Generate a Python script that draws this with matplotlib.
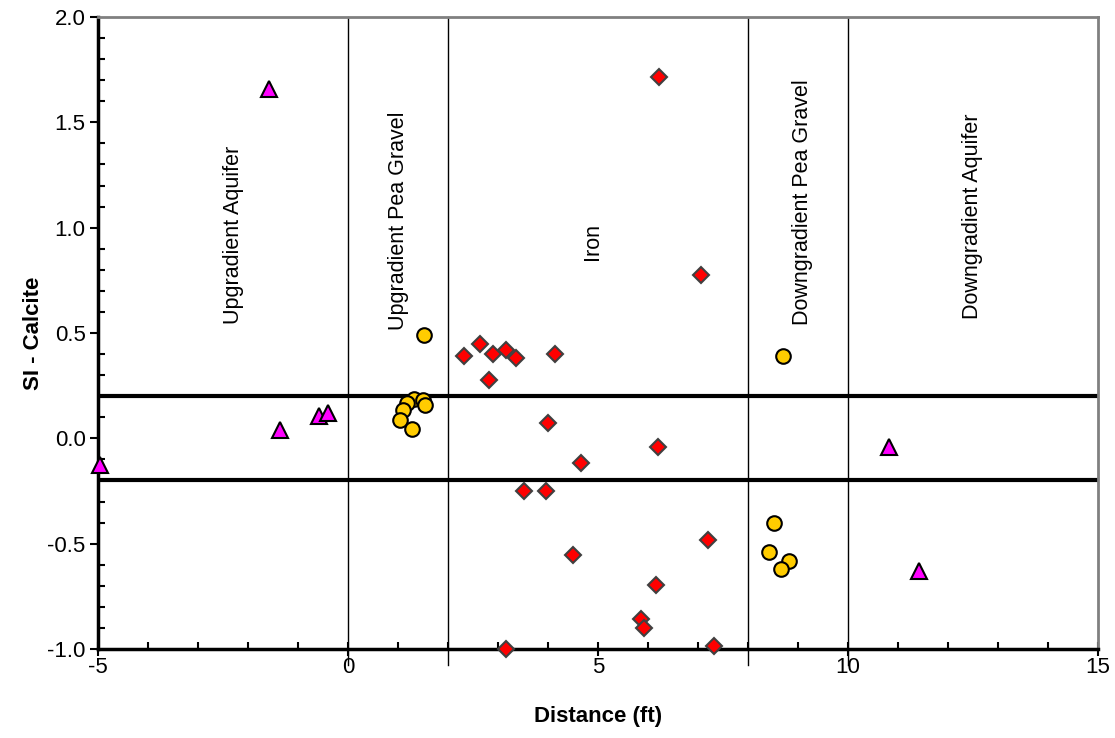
import matplotlib
matplotlib.use("Agg")
import matplotlib.pyplot as plt
from matplotlib.ticker import MultipleLocator

plt.rcParams['font.family'] = ['Liberation Sans', 'DejaVu Sans']
plt.rcParams['axes.unicode_minus'] = False

# aquifer samples (triangles)
aquifer_x = [-1.58, -1.37, -0.59, -0.40, -4.97, 10.82, 11.42]
aquifer_y = [1.66, 0.04, 0.105, 0.12, -0.125, -0.04, -0.63]

# pea gravel samples (circles)
gravel_x = [1.52, 1.31, 1.49, 1.53, 1.17, 1.09, 1.04, 1.27, 8.70, 8.51, 8.41, 8.81, 8.66]
gravel_y = [0.49, 0.187, 0.184, 0.16, 0.168, 0.136, 0.086, 0.044, 0.39, -0.40, -0.54, -0.58, -0.62]

# iron zone samples (diamonds)
iron_x = [2.31, 2.64, 2.90, 3.15, 3.36, 4.13, 2.81, 3.99, 4.66, 3.52, 3.95,
          6.21, 7.05, 6.20, 4.49, 7.19, 6.16, 5.85, 5.91, 3.15, 7.32]
iron_y = [0.39, 0.447, 0.402, 0.418, 0.383, 0.402, 0.276, 0.073, -0.119, -0.25, -0.25,
          1.716, 0.776, -0.04, -0.556, -0.485, -0.695, -0.857, -0.90, -1.0, -0.985]

zone_bounds = [0, 2, 8, 10]
zone_names = ["Upgradient Aquifer", "Upgradient Pea Gravel", "Iron",
              "Downgradient Pea Gravel", "Downgradient Aquifer"]
zone_label_x = [-2.3, 1.0, 4.88, 9.08, 12.48]
zone_label_y = [0.965, 1.035, 0.935, 1.12, 1.055]
equilibrium = [0.2, -0.2]

fig = plt.figure(figsize=(11.15, 7.38), dpi=100)
ax = fig.add_axes([0.0879, 0.1206, 0.8969, 0.8564])

for b in zone_bounds:
    ax.axvline(b, ymin=-0.025, ymax=1, color='black', lw=1, clip_on=False, zorder=1)
for h in equilibrium:
    ax.axhline(h, color='black', lw=3, zorder=2)

for name, lx, ly in zip(zone_names, zone_label_x, zone_label_y):
    ax.text(lx, ly, name, rotation=90, ha='center', va='center', fontsize=15.5)

ax.plot(iron_x, iron_y, 'D', color='red', markeredgecolor='#404040',
        markeredgewidth=1.5, markersize=8.5, zorder=3, clip_on=False)
ax.plot(gravel_x, gravel_y, 'o', color='#FFCC00', markeredgecolor='black',
        markeredgewidth=1.5, markersize=10.5, zorder=3, clip_on=False)
ax.plot(aquifer_x, aquifer_y, '^', color='#FF00FF', markeredgecolor='black',
        markeredgewidth=1.5, markersize=11, zorder=4, clip_on=False)

ax.set_xlim(-5, 15)
ax.set_ylim(-1.0, 2.0)
ax.xaxis.set_major_locator(MultipleLocator(5))
ax.xaxis.set_minor_locator(MultipleLocator(1))
ax.yaxis.set_major_locator(MultipleLocator(0.5))
ax.yaxis.set_minor_locator(MultipleLocator(0.1))
ax.yaxis.set_major_formatter(plt.FuncFormatter(lambda v, _: f"{v:.1f}"))

ax.tick_params(axis='x', which='major', direction='inout', length=10, width=1.5,
               labelsize=16, pad=1)
ax.tick_params(axis='x', which='minor', direction='in', length=5, width=1.5)
ax.tick_params(axis='y', which='major', direction='out', length=6, width=1.5,
               labelsize=16, pad=3)
ax.tick_params(axis='y', which='minor', direction='in', length=5, width=1.5)

for s in ['bottom', 'left']:
    ax.spines[s].set_linewidth(2.5)
    ax.spines[s].set_color('black')
for s in ['top', 'right']:
    ax.spines[s].set_linewidth(2)
    ax.spines[s].set_color('#808080')

ax.set_xlabel('Distance (ft)', fontweight='bold', fontsize=16, labelpad=20)
ax.set_ylabel('SI - Calcite', fontweight='bold', fontsize=16, labelpad=2)

fig.savefig("out.png", dpi=100)
